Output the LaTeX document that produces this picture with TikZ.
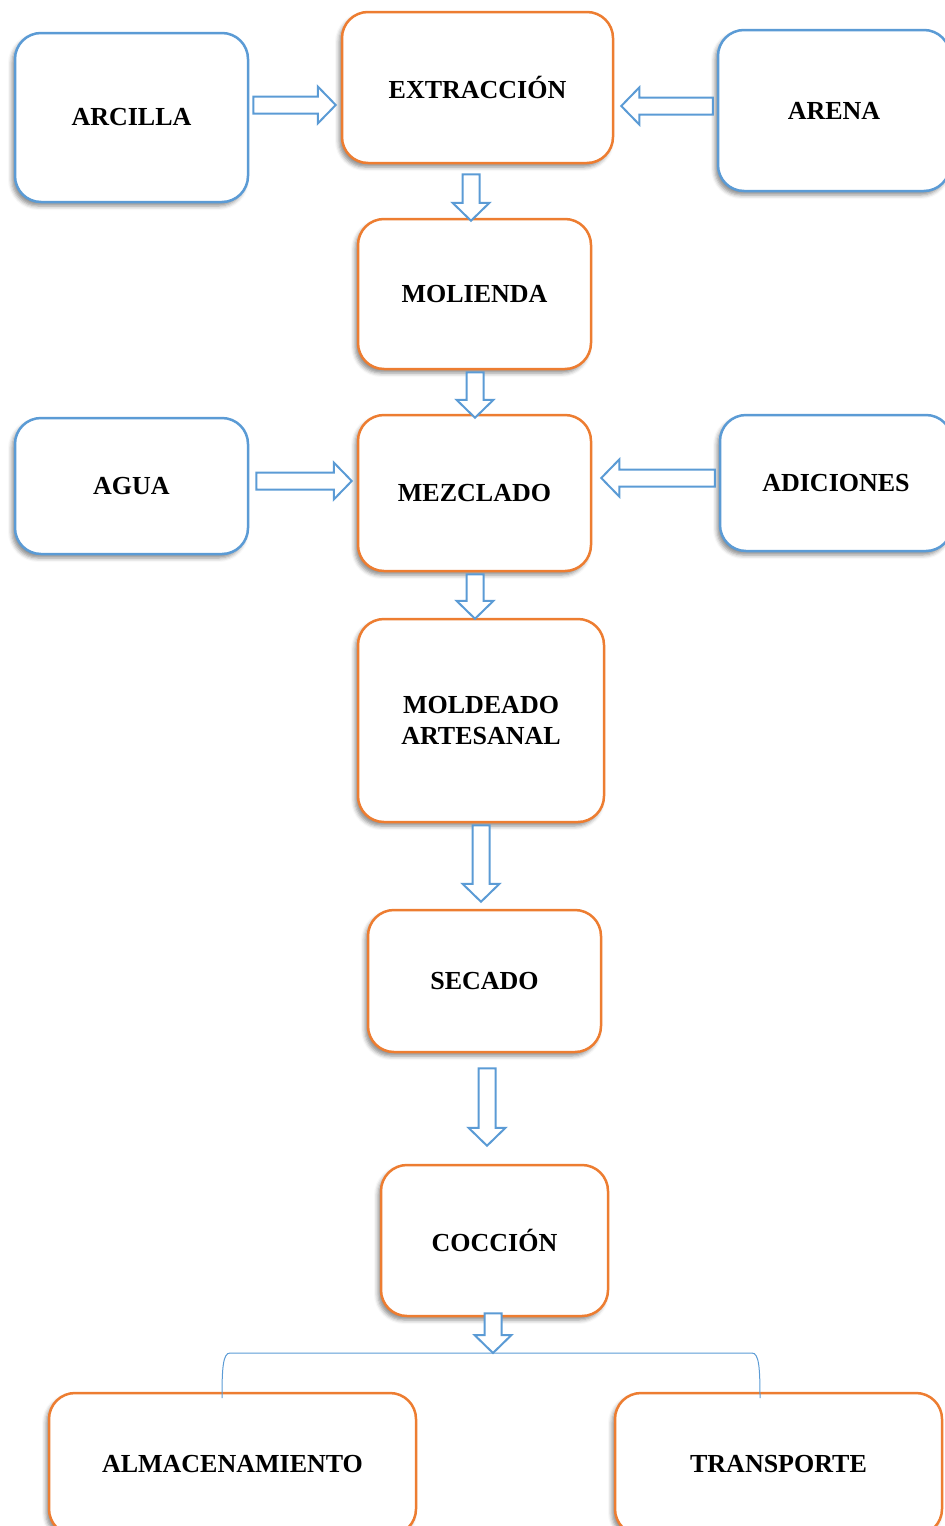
\documentclass[tikz,border=0pt]{standalone}
\usepackage{fontspec}
\setmainfont{Liberation Serif}
\usetikzlibrary{calc,shadows.blur}

\newcommand{\blockarrow}[2]{%
  \draw[flowarrow] let \p1=#1, \p2=#2,
      \n1={veclen(\x2-\x1,\y2-\y1)}, \n2={atan2(\y2-\y1,\x2-\x1)} in
    [shift={(\p1)}, rotate=\n2]
    (0pt,-8.5pt) -- ({\n1-18pt},-8.5pt) -- ({\n1-18pt},-18.5pt) -- (\n1,0pt)
    -- ({\n1-18pt},18.5pt) -- ({\n1-18pt},8.5pt) -- (0pt,8.5pt) -- cycle;}

\begin{document}
\begin{tikzpicture}[x=1pt, y=-1pt,
  box/.style={draw, fill=white, line width=2.5pt, rounded corners=26pt, inner sep=0pt,
    align=center, font=\fontsize{26}{31}\selectfont\bfseries,
    blur shadow={shadow xshift=-3pt, shadow yshift=-4pt, shadow blur radius=4pt, shadow opacity=45}},
  inputbox/.style={box, draw=inputblue},
  stepbox/.style={box, draw=steporange},
  flowarrow/.style={draw=inputblue, fill=white, line width=2pt, line join=miter},
  bracket/.style={draw=inputblue, line width=1pt}]

\definecolor{inputblue}{RGB}{91, 155, 213}
\definecolor{steporange}{RGB}{237, 125, 49}

\useasboundingbox (0,0) rectangle (945,1526);

% raw materials and process steps
\node[inputbox, minimum width=233, minimum height=169] (arcilla) at (131.5,117.5) {ARCILLA};
\node[stepbox, minimum width=271, minimum height=151] (extraccion) at (477.5,87.5) {EXTRACCIÓN};
\node[inputbox, minimum width=232, minimum height=161] (arena) at (834,110.5) {ARENA};
\node[stepbox, minimum width=233, minimum height=150] (molienda) at (474.5,294) {MOLIENDA};
\node[inputbox, minimum width=233, minimum height=136] (agua) at (131.5,486) {AGUA};
\node[stepbox, minimum width=233, minimum height=156] (mezclado) at (474.5,493) {MEZCLADO};
\node[inputbox, minimum width=232, minimum height=136] (adiciones) at (836,483) {ADICIONES};
\node[stepbox, minimum width=246, minimum height=203] (moldeado) at (481,720.5) {MOLDEADO\\ARTESANAL};
\node[stepbox, minimum width=233, minimum height=142] (secado) at (484.5,981) {SECADO};
\node[stepbox, minimum width=227, minimum height=151] (coccion) at (494.5,1240.5) {COCCIÓN};
\node[stepbox, minimum width=367, minimum height=142] (almacenamiento) at (232.5,1464) {ALMACENAMIENTO};
\node[stepbox, minimum width=327, minimum height=142] (transporte) at (778.5,1464) {TRANSPORTE};

% block arrows
\blockarrow{([shift={(4,-12.5)}]arcilla.east)}{([shift={(-5,17.5)}]extraccion.west)}
\blockarrow{([shift={(-4,-4.5)}]arena.west)}{([shift={(7,18.5)}]extraccion.east)}
\blockarrow{([shift={(-6.5,10)}]extraccion.south)}{([shift={(-3.5,3)}]molienda.north)}
\blockarrow{([shift={(0.5,2)}]molienda.south)}{([shift={(0.5,4)}]mezclado.north)}
\blockarrow{([shift={(7,-5)}]agua.east)}{([shift={(-5,-12)}]mezclado.west)}
\blockarrow{([shift={(-4,-5)}]adiciones.west)}{([shift={(9,-15)}]mezclado.east)}
\blockarrow{([shift={(0.5,2)}]mezclado.south)}{([shift={(-6,1)}]moldeado.north)}
\blockarrow{([shift={(0,2)}]moldeado.south)}{([shift={(-3.5,-7)}]secado.north)}
\blockarrow{([shift={(2.5,15)}]secado.south)}{([shift={(-7.5,-18)}]coccion.north)}

% split to the two outputs
\coordinate (bracetop) at (493,1353);
\coordinate (braceleft) at (222,1398);
\coordinate (braceright) at (760,1398);
\blockarrow{([shift={(-1.5,-4)}]coccion.south)}{(bracetop)}
\draw[bracket] (braceleft) .. controls (222,1368) and (223,1353) .. (230,1353)
  -- (bracetop) -- (752,1353) .. controls (759,1353) and (760,1368) .. (braceright);

\end{tikzpicture}
\end{document}
